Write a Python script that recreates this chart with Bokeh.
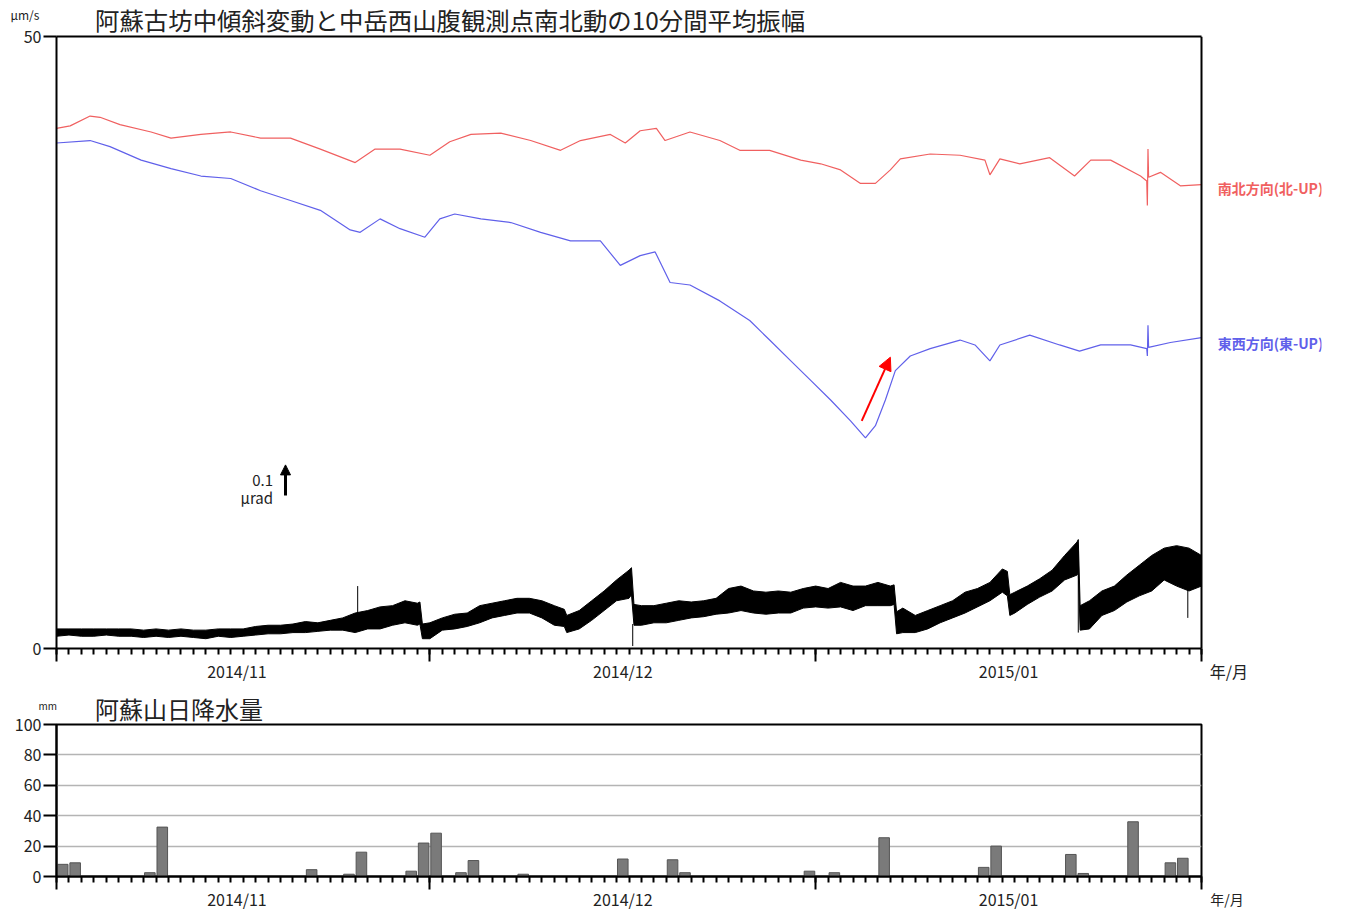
import pandas as pd
from bokeh.plotting import figure
from bokeh.models import (Range1d, FixedTicker, Label, Arrow, NormalHead, LinearAxis,
                          Span)
from bokeh.embed import file_html
from bokeh.resources import INLINE

FONT = "Noto Sans CJK JP"
TEXT = "#222222"
START = pd.Timestamp("2014-11-01")
N_DAYS = 92


def day_of(dates):
    return list((pd.to_datetime(dates) - START) / pd.Timedelta(days=1))


# calendar
month_starts = ["2014-11-01", "2014-12-01", "2015-01-01", "2015-02-01"]
month_label_at = ["2014-11-15 12:00", "2014-12-16 12:00", "2015-01-16 12:00"]
month_labels = ["2014/11", "2014/12", "2015/01"]

# tilt, north-south component (north up), drawn in axis units
ns_day = [0, 1.1, 2.7, 3.5, 5.1, 7.6, 9.2, 11.6, 14.0, 16.4, 18.8, 21.2, 24.0, 25.6,
          27.6, 30.0, 31.6, 33.3, 35.7, 38.1, 40.5, 42.1, 44.5, 45.7, 46.9, 48.2,
          48.9, 50.9, 53.3, 54.9, 57.3, 59.8, 61.4, 63.0, 64.6, 65.8, 67.0, 67.8,
          70.2, 72.6, 74.6, 75.0, 75.8, 77.4, 79.8, 81.8, 83.1, 84.7, 87.1, 87.6,
          87.65, 87.7, 87.75, 88.7, 90.3, 92.0]
ns_tilt = [42.5, 42.7, 43.5, 43.4, 42.8, 42.2, 41.7, 42.0, 42.2, 41.7, 41.7, 40.8,
           39.7, 40.8, 40.8, 40.3, 41.4, 42.0, 42.1, 41.5, 40.7, 41.5, 42.0, 41.3,
           42.3, 42.5, 41.5, 42.2, 41.5, 40.7, 40.7, 39.9, 39.6, 39.1, 38.0, 38.0,
           39.1, 40.0, 40.4, 40.3, 39.9, 38.7, 40.0, 39.6, 40.1, 38.6, 39.9, 39.9,
           38.6, 38.2, 36.2, 40.8, 38.5, 38.9, 37.8, 37.9]

# tilt, east-west component (east up), drawn in axis units
ew_day = [0, 2.7, 4.3, 6.8, 9.2, 11.6, 14.0, 16.4, 18.8, 21.2, 23.6, 24.4, 26.0,
          27.6, 29.6, 30.8, 32.0, 34.1, 36.5, 38.9, 41.3, 43.7, 45.3, 46.9, 48.1,
          49.3, 50.9, 53.3, 55.7, 57.3, 59.0, 60.6, 62.2, 63.8, 65.0, 65.8, 66.6,
          67.4, 68.6, 70.2, 72.6, 73.8, 75.0, 75.8, 78.2, 80.6, 82.2, 83.9, 86.3,
          87.6, 87.65, 87.7, 87.75, 89.5, 92.0]
ew_tilt = [41.3, 41.5, 41.0, 39.9, 39.2, 38.6, 38.4, 37.4, 36.6, 35.8, 34.2, 34.0,
           35.1, 34.3, 33.6, 35.1, 35.5, 35.1, 34.8, 34.0, 33.3, 33.3, 31.3, 32.1,
           32.4, 29.9, 29.7, 28.4, 26.8, 25.2, 23.5, 21.9, 20.3, 18.6, 17.2, 18.2,
           20.3, 22.7, 23.9, 24.5, 25.2, 24.8, 23.5, 24.8, 25.6, 24.8, 24.3, 24.8,
           24.8, 24.5, 23.9, 26.4, 24.6, 25.0, 25.4]

# 10-minute mean amplitude (um/s): upper / lower envelope of the trace
amp_day = [0, 1, 2, 3, 4, 5, 6, 7, 8, 9, 10, 11, 12, 13, 14, 15, 16, 17, 18, 19,
           20, 21, 22, 23, 24, 25, 26, 27, 28, 29, 29.2, 29.4, 30, 31, 32, 33, 34,
           35, 36, 37, 38, 39, 40, 40.8, 41, 42, 43, 44, 45, 46, 46.2, 46.4, 47,
           48, 49, 50, 51, 52, 53, 54, 55, 56, 57, 58, 59, 60, 61, 62, 63, 64, 65,
           66, 67, 67.3, 67.5, 68, 69, 70, 71, 72, 73, 74, 75, 76, 76.4, 76.6, 77,
           78, 79, 80, 81, 82, 82.1, 82.25, 83, 84, 85, 86, 87, 88, 89, 90, 91, 92]
amp_hi = [1.6, 1.6, 1.6, 1.6, 1.6, 1.6, 1.6, 1.5, 1.6, 1.5, 1.6, 1.5, 1.5, 1.6,
          1.6, 1.6, 1.8, 1.9, 1.9, 2.0, 2.2, 2.1, 2.3, 2.5, 2.9, 3.1, 3.4, 3.5,
          3.9, 3.7, 3.8, 2.0, 2.1, 2.5, 2.8, 2.9, 3.5, 3.7, 3.9, 4.1, 4.1, 3.9,
          3.5, 3.2, 2.7, 3.1, 3.9, 4.7, 5.6, 6.4, 6.6, 3.6, 3.5, 3.5, 3.7, 3.9,
          3.8, 3.9, 4.1, 4.9, 5.1, 4.7, 4.6, 4.7, 4.6, 4.9, 5.1, 4.9, 5.4, 5.1,
          5.1, 5.4, 5.1, 5.2, 3.0, 3.3, 2.7, 3.1, 3.5, 3.9, 4.6, 4.9, 5.4, 6.5,
          6.3, 4.4, 4.6, 5.1, 5.7, 6.4, 7.6, 8.7, 8.9, 3.5, 3.9, 4.7, 5.1, 6.0,
          6.8, 7.6, 8.2, 8.4, 8.2, 7.6]
amp_lo = [1.0, 1.1, 1.0, 1.0, 1.1, 1.0, 1.0, 0.9, 1.0, 0.9, 1.0, 0.9, 0.8, 1.0,
          0.9, 1.0, 1.1, 1.2, 1.2, 1.3, 1.3, 1.4, 1.5, 1.5, 1.3, 1.6, 1.6, 1.9,
          2.1, 1.9, 2.0, 0.8, 0.8, 1.5, 1.6, 1.8, 2.1, 2.5, 2.7, 2.9, 2.9, 2.5,
          1.9, 1.8, 1.3, 1.6, 2.3, 3.1, 3.9, 4.1, 4.4, 1.9, 1.9, 2.1, 2.1, 2.3,
          2.5, 2.6, 2.8, 2.9, 3.1, 2.9, 2.8, 2.9, 2.9, 3.3, 3.4, 3.3, 3.4, 3.1,
          3.5, 3.5, 3.5, 3.6, 1.2, 1.3, 1.3, 1.6, 2.1, 2.5, 2.9, 3.4, 3.9, 4.6,
          4.3, 2.7, 2.9, 3.6, 4.2, 4.7, 5.6, 6.0, 6.2, 1.5, 1.6, 2.7, 3.1, 3.8,
          4.3, 4.7, 5.6, 5.1, 4.7, 5.1]

# isolated spikes of the amplitude trace
spike_day = [24.2, 46.3, 82.1, 90.9]
spike_top = [5.1, 2.0, 8.0, 7.0]
spike_bottom = [2.0, 0.2, 1.3, 2.5]

# daily precipitation at Asosan (mm)
rain_date = ["2014-11-01", "2014-11-02", "2014-11-08", "2014-11-09", "2014-11-21",
             "2014-11-24", "2014-11-25", "2014-11-29", "2014-11-30", "2014-12-01",
             "2014-12-03", "2014-12-04", "2014-12-08", "2014-12-16", "2014-12-20",
             "2014-12-21", "2014-12-31", "2015-01-02", "2015-01-06", "2015-01-14",
             "2015-01-15", "2015-01-21", "2015-01-22", "2015-01-26", "2015-01-29",
             "2015-01-30"]
rain_mm = [8, 9, 2.5, 32.5, 4.5, 1.5, 16, 3.5, 22, 28.5, 2.5, 10.5, 1.5, 11.5, 11,
           2.5, 3.5, 2.5, 25.5, 6, 20, 14.5, 2, 36, 9, 12]

RED = "#f06060"
BLUE = "#6060ea"

major_days = day_of(month_starts)
minor_days = list(range(N_DAYS + 1))
label_days = day_of(month_label_at)

# canvas geometry
CANVAS_W = 1352
LEFT = 56
RIGHT_GAP = 151
FRAME_W = CANVAS_W - LEFT - RIGHT_GAP
P1_RIGHT = 31          # room kept for the unit label of the upper panel


def style_time_axis(p):
    ax = p.xaxis[0]
    ax.ticker = FixedTicker(ticks=major_days, minor_ticks=minor_days)
    ax.bounds = (0, N_DAYS)
    ax.major_label_text_font_size = "0px"
    ax.major_label_text_color = None
    ax.major_label_standoff = 0
    ax.major_tick_out = 13
    ax.major_tick_in = 0
    ax.minor_tick_out = 6
    ax.minor_tick_in = 0
    ax.axis_line_width = 2
    ax.major_tick_line_width = 2
    ax.minor_tick_line_width = 2
    ax.axis_line_color = "black"
    ax.major_tick_line_color = "black"
    ax.minor_tick_line_color = "black"


def add_month_axis(p, extra_ticks=(), extra_text=()):
    ticks = label_days + list(extra_ticks)
    texts = month_labels + list(extra_text)
    ax = LinearAxis(ticker=FixedTicker(ticks=ticks, minor_ticks=[]),
                    major_label_overrides={t: s for t, s in zip(ticks, texts)},
                    axis_line_color=None, major_tick_line_color=None,
                    minor_tick_line_color=None, major_tick_out=0, major_tick_in=0,
                    major_label_standoff=-3, major_label_text_font=FONT,
                    major_label_text_font_size="16px", major_label_text_color=TEXT)
    p.add_layout(ax, "below")


def style_value_axis(p, ticks, size="16px"):
    ax = p.yaxis[0]
    ax.ticker = FixedTicker(ticks=ticks, minor_ticks=[])
    ax.major_tick_out = 13
    ax.major_tick_in = 0
    ax.major_tick_line_width = 2
    ax.axis_line_width = 2
    ax.major_label_text_font = FONT
    ax.major_label_text_font_size = size
    ax.major_label_text_color = TEXT
    ax.major_label_standoff = 2


# ---------------- tilt and amplitude panel ----------------
# the frame runs on past the box so the component names fit inside it
x_end_1 = N_DAYS * (CANVAS_W - LEFT - P1_RIGHT) / FRAME_W
p1 = figure(width=CANVAS_W, height=688, output_backend="svg", toolbar_location=None,
            x_range=Range1d(0, x_end_1), y_range=Range1d(0, 50),
            min_border_left=LEFT, min_border_right=P1_RIGHT, min_border_top=36,
            min_border_bottom=40)
p1.grid.visible = False
p1.outline_line_color = None
style_time_axis(p1)
style_value_axis(p1, [0, 50])
p1.add_layout(LinearAxis(ticker=FixedTicker(ticks=[], minor_ticks=[]), bounds=(0, N_DAYS),
                         axis_line_width=2, major_tick_out=0, major_tick_in=0,
                         major_label_standoff=0, major_label_text_font_size="0px",
                         major_label_text_color=None), "above")
p1.add_layout(Span(location=N_DAYS, dimension="height", line_color="black", line_width=2))
add_month_axis(p1, [94.2], ["年/月"])

p1.line(ns_day, ns_tilt, line_color=RED, line_width=1.2)
p1.line(ew_day, ew_tilt, line_color=BLUE, line_width=1.2)

p1.varea(x=amp_day, y1=amp_lo, y2=amp_hi, fill_color="black")
p1.line(amp_day, amp_hi, line_color="black", line_width=1)
p1.line(amp_day, amp_lo, line_color="black", line_width=1)
p1.segment(x0=spike_day, y0=spike_bottom, x1=spike_day, y1=spike_top,
           line_color="black", line_width=1)

p1.add_layout(Label(x=3.1, y=51.4, text="阿蘇古坊中傾斜変動と中岳西山腹観測点南北動の10分間平均振幅",
                    text_font=FONT, text_font_size="24.4px", text_baseline="middle",
                    text_color=TEXT), "above")
p1.add_layout(Label(x=-3.7, y=51.8, text="μm/s", text_font=FONT, text_font_size="12px",
                    text_baseline="middle", text_color=TEXT), "right")
p1.add_layout(Label(x=93.3, y=37.6, text="南北方向(北-UP)", text_font=FONT,
                    text_font_size="14px", text_font_style="bold",
                    text_baseline="middle", text_color=RED))
p1.add_layout(Label(x=93.3, y=25.0, text="東西方向(東-UP)", text_font=FONT,
                    text_font_size="14px", text_font_style="bold",
                    text_baseline="middle", text_color=BLUE))

# 0.1 microradian scale
p1.add_layout(Arrow(x_start=18.4, y_start=12.5, x_end=18.4, y_end=15.0,
                    line_color="black", line_width=3,
                    end=NormalHead(size=10, fill_color="black", line_color="black")))
p1.add_layout(Label(x=17.4, y=13.7, text="0.1", text_font=FONT, text_font_size="15px",
                    text_align="right", text_baseline="middle", text_color=TEXT))
p1.add_layout(Label(x=17.4, y=12.3, text="μrad", text_font=FONT, text_font_size="15px",
                    text_align="right", text_baseline="middle", text_color=TEXT))

# recovery of the east-west tilt
p1.add_layout(Arrow(x_start=64.7, y_start=18.6, x_end=67.0, y_end=23.8,
                    line_color="red", line_width=2,
                    end=NormalHead(size=13, fill_color="red", line_color="red")))

# ---------------- precipitation panel ----------------
p2 = figure(width=CANVAS_W, height=225, output_backend="svg", toolbar_location=None,
            x_range=Range1d(0, N_DAYS), y_range=Range1d(0, 100),
            min_border_left=LEFT, min_border_right=RIGHT_GAP, min_border_top=36,
            min_border_bottom=36)
p2.xgrid.visible = False
p2.ygrid.ticker = FixedTicker(ticks=[20, 40, 60, 80])
p2.ygrid.grid_line_color = "#b4b4b4"
p2.ygrid.grid_line_width = 1.5
p2.outline_line_color = "black"
p2.outline_line_width = 2
style_time_axis(p2)
style_value_axis(p2, [0, 20, 40, 60, 80, 100])
add_month_axis(p2)

rain_x = [d + 0.5 for d in day_of(rain_date)]
p2.vbar(x=rain_x, top=rain_mm, bottom=0, width=0.85, fill_color="#7a7a7a",
        line_color="#555555", line_width=1)

p2.add_layout(Label(x=3.1, y=110.5, text="阿蘇山日降水量", text_font=FONT,
                    text_font_size="24px", text_baseline="middle", text_color=TEXT), "above")
p2.add_layout(Label(x=-1.45, y=112.4, text="mm", text_font=FONT, text_font_size="10px",
                    text_baseline="middle", text_color=TEXT), "right")
p2.add_layout(Label(x=92.7, y=-15, text="年/月", text_font=FONT, text_font_size="14px",
                    text_baseline="middle", text_color=TEXT), "right")

# two independent roots, stacked in the page
open("out.html", "w").write(file_html([p1, p2], INLINE))
